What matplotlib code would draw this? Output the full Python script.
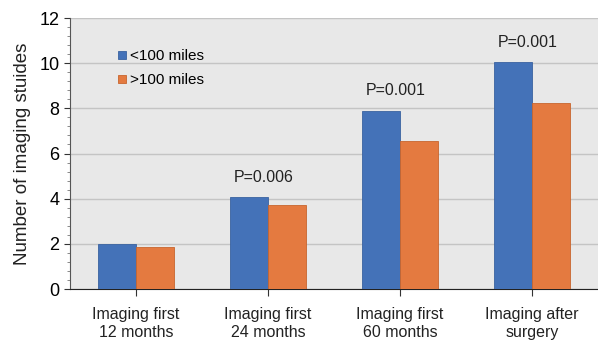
import numpy as np
import matplotlib.pyplot as plt
from matplotlib.ticker import MultipleLocator

plt.rcParams["font.family"] = ["Liberation Sans", "DejaVu Sans"]

categories = ["Imaging first\n12 months", "Imaging first\n24 months",
              "Imaging first\n60 months", "Imaging after\nsurgery"]
near = [2.0, 4.07, 7.9, 10.05]
far = [1.85, 3.72, 6.55, 8.25]
pvals = ["", "P=0.006", "P=0.001", "P=0.001"]

fig = plt.figure(figsize=(5.98, 3.4), dpi=100)
ax = fig.add_axes([0.117, 0.15, 0.883, 0.797])
ax.set_facecolor("#e8e8e8")

x = np.arange(len(categories))
w = 0.285
ax.bar(x - w / 2, near, w, color="#4472b8", edgecolor="#3a62a0", linewidth=0.6,
       label="<100 miles", zorder=3)
ax.bar(x + w / 2, far, w, color="#e47a40", edgecolor="#c8652e", linewidth=0.6,
       label=">100 miles", zorder=3)

for i, p in enumerate(pvals):
    if p:
        top = max(near[i], far[i])
        ax.text(x[i] - 0.03, top + 0.88, p, ha="center", va="center", fontsize=11.5,
                color="#222222")

ax.set_xlim(-0.5, 3.5)
ax.set_ylim(0, 12)
ax.set_yticks(range(0, 13, 2))
ax.yaxis.set_minor_locator(MultipleLocator(0.4))
ax.grid(axis="y", color="#c4c4c4", linewidth=1.0, zorder=0)
ax.set_xticks(x)
ax.set_xticklabels(categories, fontsize=11.5, color="#222222", linespacing=1.25)
ax.tick_params(axis="y", labelsize=13, length=4, color="#333333")
ax.tick_params(axis="y", which="minor", length=2, color="#777777")
ax.tick_params(axis="x", length=5, pad=8, color="#333333")
ax.set_ylabel("Number of imaging stuides", fontsize=13.5, color="#222222", labelpad=6)

for s in ["top", "right"]:
    ax.spines[s].set_visible(False)
ax.spines["left"].set_color("#555555")
ax.spines["bottom"].set_color("#222222")

ax.legend(loc="upper left", bbox_to_anchor=(0.065, 0.935), frameon=False, fontsize=11,
          handlelength=0.5, handleheight=0.5, handletextpad=0.3, labelspacing=0.65)

plt.savefig("out.png")
